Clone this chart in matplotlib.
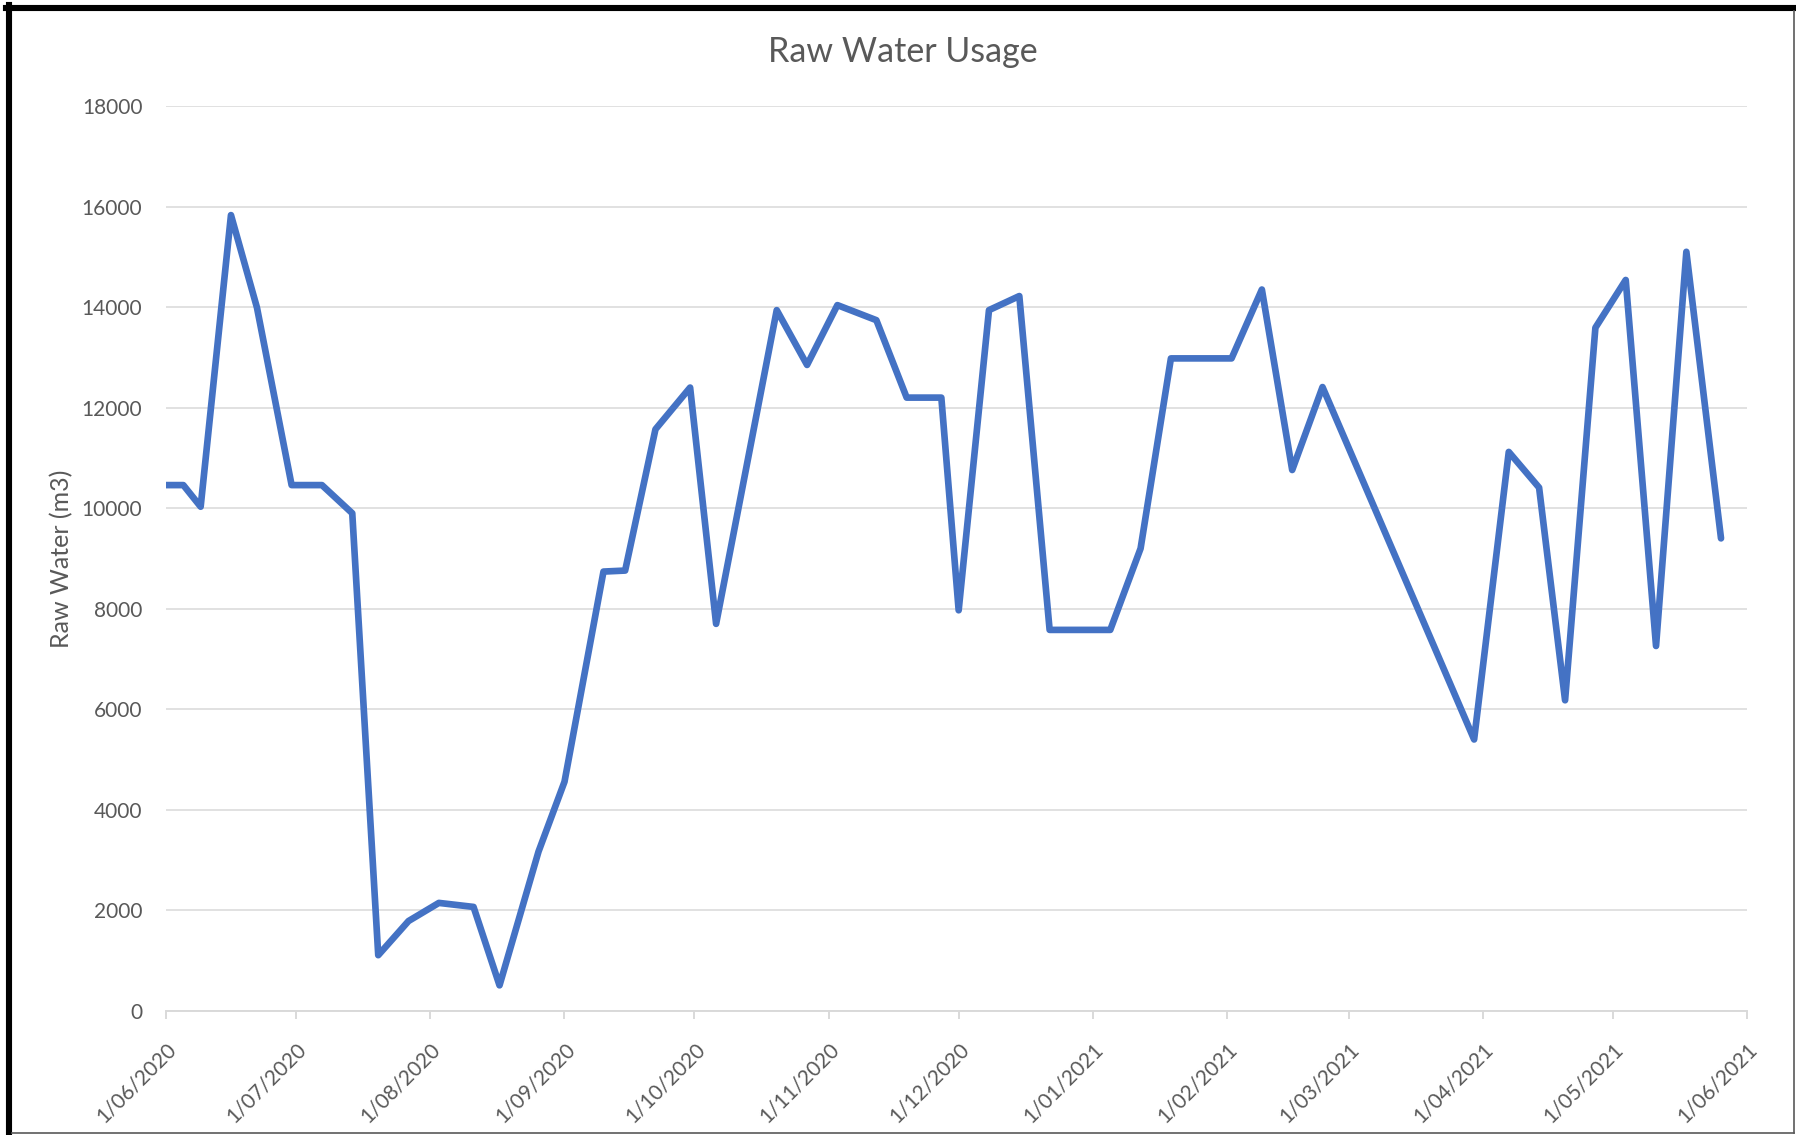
import pandas as pd
import matplotlib
matplotlib.use("Agg")
import matplotlib.pyplot as plt
from matplotlib.lines import Line2D

# Dados
datas = [
    "2020-06-01", "2020-06-05", "2020-06-09", "2020-06-16", "2020-06-22", "2020-06-30",
    "2020-07-07", "2020-07-14", "2020-07-20", "2020-07-27", "2020-08-03", "2020-08-11",
    "2020-08-17", "2020-08-26", "2020-09-01", "2020-09-10", "2020-09-15", "2020-09-22",
    "2020-09-30", "2020-10-06", "2020-10-20", "2020-10-27", "2020-11-03", "2020-11-12",
    "2020-11-19", "2020-11-27", "2020-12-01", "2020-12-08", "2020-12-15", "2020-12-22",
    "2021-01-05", "2021-01-12", "2021-01-19", "2021-02-02", "2021-02-09", "2021-02-16",
    "2021-02-23", "2021-03-30", "2021-04-07", "2021-04-14", "2021-04-20", "2021-04-27",
    "2021-05-04", "2021-05-11", "2021-05-18", "2021-05-26",
]
agua_bruta = [
    10460, 10460, 10030, 15830, 13990, 10460,
    10460, 9900, 1110, 1790, 2150, 2070,
    510, 3170, 4560, 8740, 8760, 11570,
    12400, 7700, 13940, 12850, 14040, 13740,
    12200, 12200, 7970, 13940, 14220, 7580,
    7580, 9200, 12980, 12980, 14350, 10760,
    12410, 5400, 11120, 10410, 6180, 13590,
    14540, 7260, 15100, 9400,
]
yticks = [0, 2000, 4000, 6000, 8000, 10000, 12000, 14000, 16000, 18000]

df = pd.DataFrame({"data": pd.to_datetime(datas), "agua": agua_bruta})
meses = pd.date_range("2020-06-01", "2021-06-01", freq="MS")
rotulos_x = [f"{d.day}/{d:%m/%Y}" for d in meses]

plt.rcParams["font.family"] = ["Lato", "DejaVu Sans"]
cinza_texto = "#595959"
cinza_grade = "#D9D9D9"

W, H = 1796, 1135
fig = plt.figure(figsize=(W / 100, H / 100), dpi=100)
ax = fig.add_axes([166 / W, 1 - 1011 / H, (1747 - 166) / W, (1011 - 106) / H])

ax.plot(df["data"], df["agua"], color="#4472C4", linewidth=4.8,
        solid_joinstyle="round", solid_capstyle="round", zorder=3)

ax.set_xlim(meses[0], meses[-1])
ax.set_ylim(0, 18000)
ax.set_yticks(yticks)
ax.set_yticklabels([str(v) for v in yticks])
ax.set_xticks(meses)
ax.set_xticklabels(rotulos_x, rotation=45, ha="right", va="top", rotation_mode="anchor")

ax.grid(axis="y", color=cinza_grade, linewidth=1.1, zorder=0)
for lado in ["top", "right", "left"]:
    ax.spines[lado].set_visible(False)
ax.spines["bottom"].set_color(cinza_grade)
ax.spines["bottom"].set_linewidth(1.4)
ax.spines["bottom"].set_zorder(1)

ax.tick_params(axis="y", length=0, pad=17, labelsize=15, labelcolor=cinza_texto)
ax.tick_params(axis="x", length=6, width=1.4, color=cinza_grade, pad=14,
               labelsize=15, labelcolor=cinza_texto)

ax.set_ylabel("Raw Water (m3)", fontsize=18, color=cinza_texto, labelpad=6)
fig.text(903 / W, 1 - 52 / H, "Raw Water Usage", ha="center", va="center",
         fontsize=24.5, color=cinza_texto)

# Moldura da captura de tela
fig.add_artist(Line2D([6 / W, 1], [1 - 8 / H, 1 - 8 / H], color="black", linewidth=4.4))
fig.add_artist(Line2D([9 / W, 9 / W], [1 - 5 / H, 0], color="black", linewidth=4.4))
fig.add_artist(Line2D([1794 / W, 1794 / W], [1 - 11 / H, 1 - 1133 / H], color="#595959", linewidth=1.2))
fig.add_artist(Line2D([12 / W, 1794 / W], [1 - 1133 / H, 1 - 1133 / H], color="#595959", linewidth=1.2))

fig.savefig("out.png", dpi=100, facecolor="white")
